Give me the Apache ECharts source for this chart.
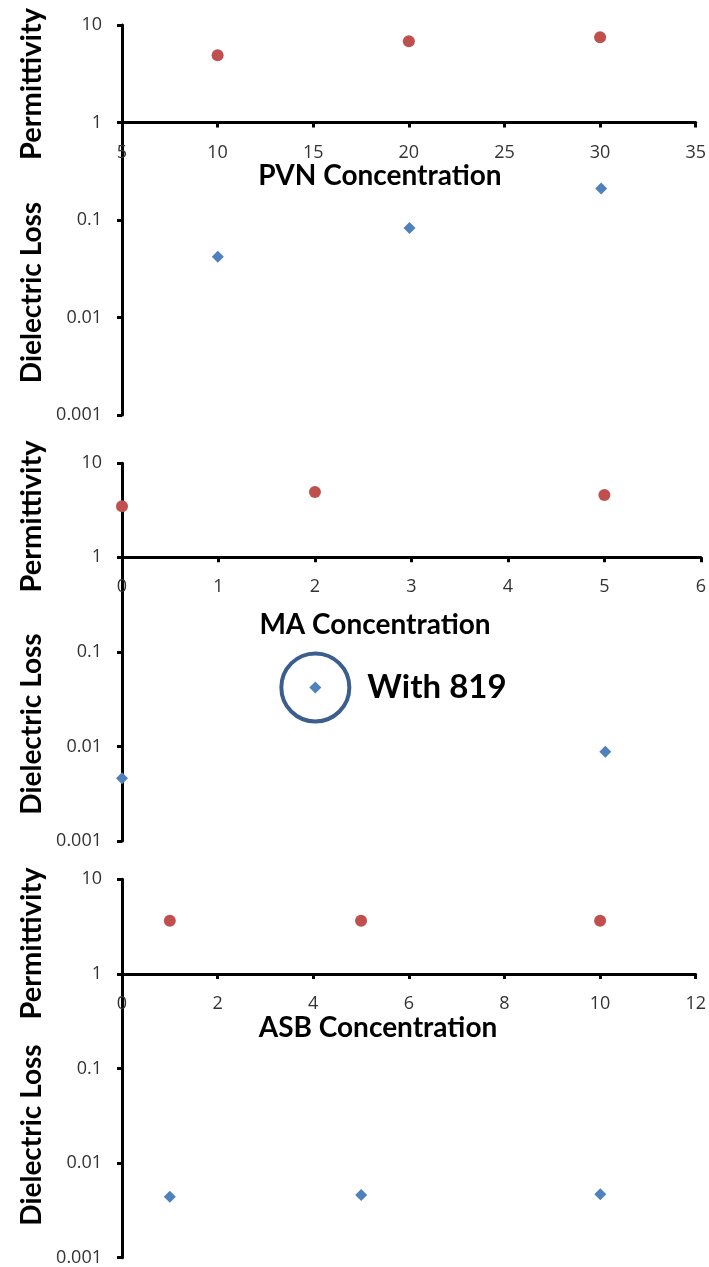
<!DOCTYPE html>
<html>
<head>
<meta charset="utf-8">
<script src="https://cdn.jsdelivr.net/npm/echarts@6/dist/echarts.min.js"></script>
<style>
  html, body { margin: 0; padding: 0; background: #fff; }
  #chart { width: 709px; height: 1267px; }
</style>
</head>
<body>
<div id="chart"></div>
<script>
// PVN panel
const pvnConc = [10, 20, 30];
const pvnPerm = [4.9, 6.8, 7.5];
const pvnLoss = [0.042, 0.083, 0.21];
const pvnAxis = [5, 35, 5];   // min, max, interval

// MA panel
const maConc = [0, 2, 5];
const maPerm = [3.5, 4.95, 4.6];
const maLoss = [0.0046, 0.042, 0.0088];
const maAxis = [0, 6, 1];

// ASB panel
const asbConc = [1, 5, 10];
const asbPerm = [3.65, 3.65, 3.65];
const asbLoss = [0.0044, 0.0046, 0.0047];
const asbAxis = [0, 12, 2];

// log ranges
const permRange = [1, 10];
const lossRange = [0.001, 1];

const xTitles = ['PVN Concentration', 'MA Concentration', 'ASB Concentration'];
const permTitle = 'Permittivity';
const lossTitle = 'Dielectric Loss';
const noteText = 'With 819';
const notePoint = [2, 0.042];

const RED = '#C0504D';
const BLUE = '#4F81BD';
const TITLE_FONT = 'Lato, "Liberation Sans", sans-serif';
const TICK_FONT = '"Open Sans", "Liberation Sans", sans-serif';

// 每个面板的布局: 上面是介电常数, 下面是介电损耗
const panels = [
    { perm: { top: 25, height: 97.5, width: 575 }, loss: { top: 122.5, height: 292.5 }, axis: pvnAxis, x: pvnConc, p: pvnPerm, l: pvnLoss },
    { perm: { top: 463.3, height: 94, width: 580 }, loss: { top: 557.3, height: 283.7 }, axis: maAxis, x: maConc, p: maPerm, l: maLoss },
    { perm: { top: 879.3, height: 94.7, width: 574 }, loss: { top: 974, height: 283.7 }, axis: asbAxis, x: asbConc, p: asbPerm, l: asbLoss }
];

const axisLineStyle = { color: '#000', width: 3 };
const tickLabel = { color: '#333', fontSize: 18, fontFamily: TICK_FONT };

const grid = [], xAxis = [], yAxis = [], series = [];

panels.forEach((pn, i) => {
    grid.push({ left: 122, top: pn.perm.top, width: pn.perm.width, height: pn.perm.height });
    grid.push({ left: 122, top: pn.loss.top, width: pn.perm.width, height: pn.loss.height });

    xAxis.push({
        type: 'value', gridIndex: 2 * i,
        min: pn.axis[0], max: pn.axis[1], interval: pn.axis[2],
        splitLine: { show: false },
        axisLine: { show: true, onZero: false, lineStyle: axisLineStyle },
        axisTick: { show: true, length: 5, lineStyle: axisLineStyle },
        axisLabel: Object.assign({ margin: 21 }, tickLabel)
    });
    xAxis.push({
        type: 'value', gridIndex: 2 * i + 1,
        min: pn.axis[0], max: pn.axis[1], interval: pn.axis[2],
        show: false
    });

    yAxis.push({
        type: 'log', logBase: 10, gridIndex: 2 * i,
        min: permRange[0], max: permRange[1],
        splitLine: { show: false },
        minorTick: { show: false },
        axisLine: { show: true, lineStyle: axisLineStyle },
        axisTick: { show: true, length: 5, lineStyle: axisLineStyle },
        axisLabel: Object.assign({ margin: 20 }, tickLabel)
    });
    yAxis.push({
        type: 'log', logBase: 10, gridIndex: 2 * i + 1,
        min: lossRange[0], max: lossRange[1],
        splitLine: { show: false },
        minorTick: { show: false },
        axisLine: { show: true, lineStyle: axisLineStyle },
        axisTick: { show: true, length: 5, lineStyle: axisLineStyle },
        axisLabel: Object.assign({
            margin: 20,
            formatter: v => (v < 0.5 ? String(+v.toPrecision(1)) : '')
        }, tickLabel)
    });

    series.push({
        type: 'scatter', xAxisIndex: 2 * i, yAxisIndex: 2 * i,
        symbol: 'circle', symbolSize: 12,
        itemStyle: { color: RED, opacity: 1 },
        data: pn.x.map((v, k) => [v, pn.p[k]])
    });

    const lossSeries = {
        type: 'scatter', xAxisIndex: 2 * i + 1, yAxisIndex: 2 * i + 1,
        symbol: 'diamond', symbolSize: 12,
        itemStyle: { color: BLUE, opacity: 1 },
        data: pn.x.map((v, k) => [v, pn.l[k]])
    };
    if (i === 1) {
        // 圈出 With 819 的点
        lossSeries.markPoint = {
            symbol: 'circle',
            symbolSize: 68,
            silent: true,
            itemStyle: { color: 'rgba(0,0,0,0)', borderColor: '#3B5E8C', borderWidth: 4, opacity: 1 },
            label: {
                show: true, position: 'right', distance: 16,
                formatter: noteText,
                color: '#000', fontSize: 33, fontWeight: 'bold', fontFamily: TITLE_FONT
            },
            data: [{ coord: notePoint }]
        };
    }
    series.push(lossSeries);
});

const titleFont = (size) => 'bold ' + size + 'px ' + TITLE_FONT;

const xTitlePos = [[380, 176], [375, 625], [378, 1028]];
const permPos = [84, 516.5, 943.5];
const lossPos = [292.5, 724, 1135];

const graphic = [];
xTitles.forEach((t, i) => {
    graphic.push({
        type: 'text', x: xTitlePos[i][0], y: xTitlePos[i][1], silent: true,
        style: { text: t, font: titleFont(28), fill: '#000', align: 'center', verticalAlign: 'middle' }
    });
    graphic.push({
        type: 'text', x: 32, y: permPos[i], rotation: Math.PI / 2, silent: true,
        style: { text: permTitle, font: titleFont(29), fill: '#000', align: 'center', verticalAlign: 'middle' }
    });
    graphic.push({
        type: 'text', x: 32, y: lossPos[i], rotation: Math.PI / 2, silent: true,
        style: { text: lossTitle, font: titleFont(28), fill: '#000', align: 'center', verticalAlign: 'middle' }
    });
});

const myChart = echarts.init(document.getElementById('chart'));
myChart.setOption({
    animation: false,
    grid: grid,
    xAxis: xAxis,
    yAxis: yAxis,
    series: series,
    graphic: graphic
});
</script>
</body>
</html>
